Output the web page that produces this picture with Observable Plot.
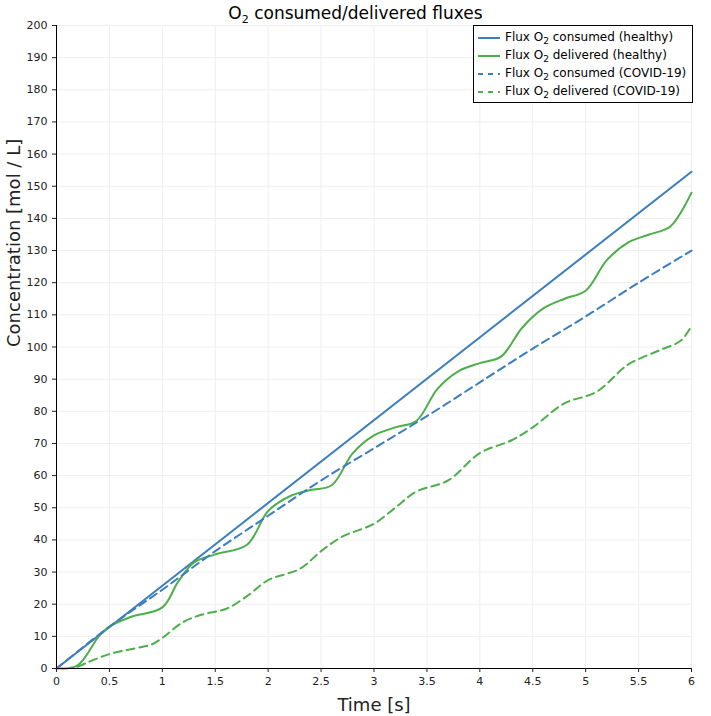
<!DOCTYPE html>
<html><head><meta charset="utf-8">
<script src="https://cdn.jsdelivr.net/npm/d3@7"></script>
<script src="https://cdn.jsdelivr.net/npm/@observablehq/plot@0.6"></script>
<style>
body{margin:0;background:#fff;font-family:"DejaVu Sans",sans-serif;}
#wrap{position:relative;width:711px;}
#title{height:17px;text-align:center;font-size:17px;line-height:26px;position:relative;z-index:1;}
#legend{position:absolute;left:473px;top:25px;border:1px solid #000;background:#fff;font-size:12px;padding:2px 6px 2px 2px;}
#legend div{height:18px;line-height:18px;white-space:nowrap;}
#legend svg{vertical-align:middle;margin-right:3px;}
</style></head>
<body><div id="wrap"><div id="title">O<sub style="font-size:11px">2</sub> consumed/delivered fluxes</div><div id="chart"></div><div id="legend"></div></div>
<script>
// values
const consHealthyT = [0, 6]
const consHealthyV = [0, 154.5]
const consCovidT = [0, 0.5, 1, 1.5, 2, 2.5, 3, 3.5, 4, 4.5, 5, 5.5, 6]
const consCovidV = [0, 13, 24.5, 36.5, 47.5, 58.5, 68.5, 78.5, 89, 99.5, 109.5, 120, 130]
const delHealthyT = [0,0.2,0.4,0.5,0.7,1,1.15,1.3,1.5,1.8,2,2.2,2.4,2.6,2.8,3,3.2,3.4,3.6,3.8,4,4.2,4.4,4.6,4.8,5,5.2,5.4,5.6,5.8,6]
const delHealthyV = [0,1,10,13,16,19,27,33,35.5,38.5,49,53.5,55.5,57,67,72.5,75,77,87,92.5,95,97,106,112,115,117.5,127,132.5,135,137.5,148]
const delCovidT = [0.2,0.3,0.5,0.7,0.9,1,1.2,1.4,1.6,1.8,2,2.3,2.5,2.7,3,3.2,3.4,3.7,4,4.3,4.5,4.8,5.1,5.4,5.7,5.9,6]
const delCovidV = [0.5,2,4.5,6,7.5,9.5,14.5,17,18.5,22.5,27.5,31,36.5,41,45,50,55,58.5,67,71,75,82.5,86,94.5,99,102,106.5]

const blue = '#3a7ebf', green = '#4daf4a'
const series = [
  {name: 'consumed (healthy)', t: consHealthyT, v: consHealthyV, color: blue, dash: null},
  {name: 'delivered (healthy)', t: delHealthyT, v: delHealthyV, color: green, dash: null},
  {name: 'consumed (COVID-19)', t: consCovidT, v: consCovidV, color: blue, dash: '8,5'},
  {name: 'delivered (COVID-19)', t: delCovidT, v: delCovidV, color: green, dash: '8,5'}
]
const toRows = s => s.t.map((t, i) => ({t, v: s.v[i]}))

const chart = Plot.plot({
  width: 711, height: 699,
  marginLeft: 56, marginRight: 20, marginTop: 8, marginBottom: 48,
  style: {fontFamily: 'DejaVu Sans', fontSize: '11px', color: '#222'},
  x: {domain: [0, 6], label: null},
  y: {domain: [0, 200], label: null},
  marks: [
    Plot.gridX(d3.range(0.5, 6.01, 0.5), {stroke: '#eee', strokeOpacity: 1}),
    Plot.gridY(d3.range(10, 201, 10), {stroke: '#eee', strokeOpacity: 1}),
    ...series.map(s => Plot.line(toRows(s), {x: 't', y: 'v', stroke: s.color, strokeWidth: 2, strokeDasharray: s.dash, curve: 'catmull-rom'})),
    Plot.ruleX([0], {stroke: '#000'}),
    Plot.ruleY([0], {stroke: '#000'}),
    Plot.axisX({ticks: d3.range(0, 6.01, 0.5), tickFormat: d => String(d), label: null, tickSize: 4}),
    Plot.axisY({ticks: d3.range(0, 201, 10), label: null, tickSize: 4}),
    Plot.text(['Time [s]'], {frameAnchor: 'bottom', dy: 42, fontSize: 18}),
    Plot.text(['Concentration [mol / L]'], {frameAnchor: 'left', dx: -42, rotate: -90, fontSize: 18})
  ]
})
document.getElementById('chart').append(chart)

const leg = d3.select('#legend')
for (const s of series) {
  const row = leg.append('div')
  const sv = row.append('svg').attr('width', 26).attr('height', 10)
  sv.append('line').attr('x1', 2).attr('x2', 24).attr('y1', 5).attr('y2', 5)
    .attr('stroke', s.color).attr('stroke-width', 2).attr('stroke-dasharray', s.dash ? '5,5' : null)
  row.append('span').html('Flux O<sub style="font-size:9px">2</sub> ' + s.name)
}
</script></body></html>
